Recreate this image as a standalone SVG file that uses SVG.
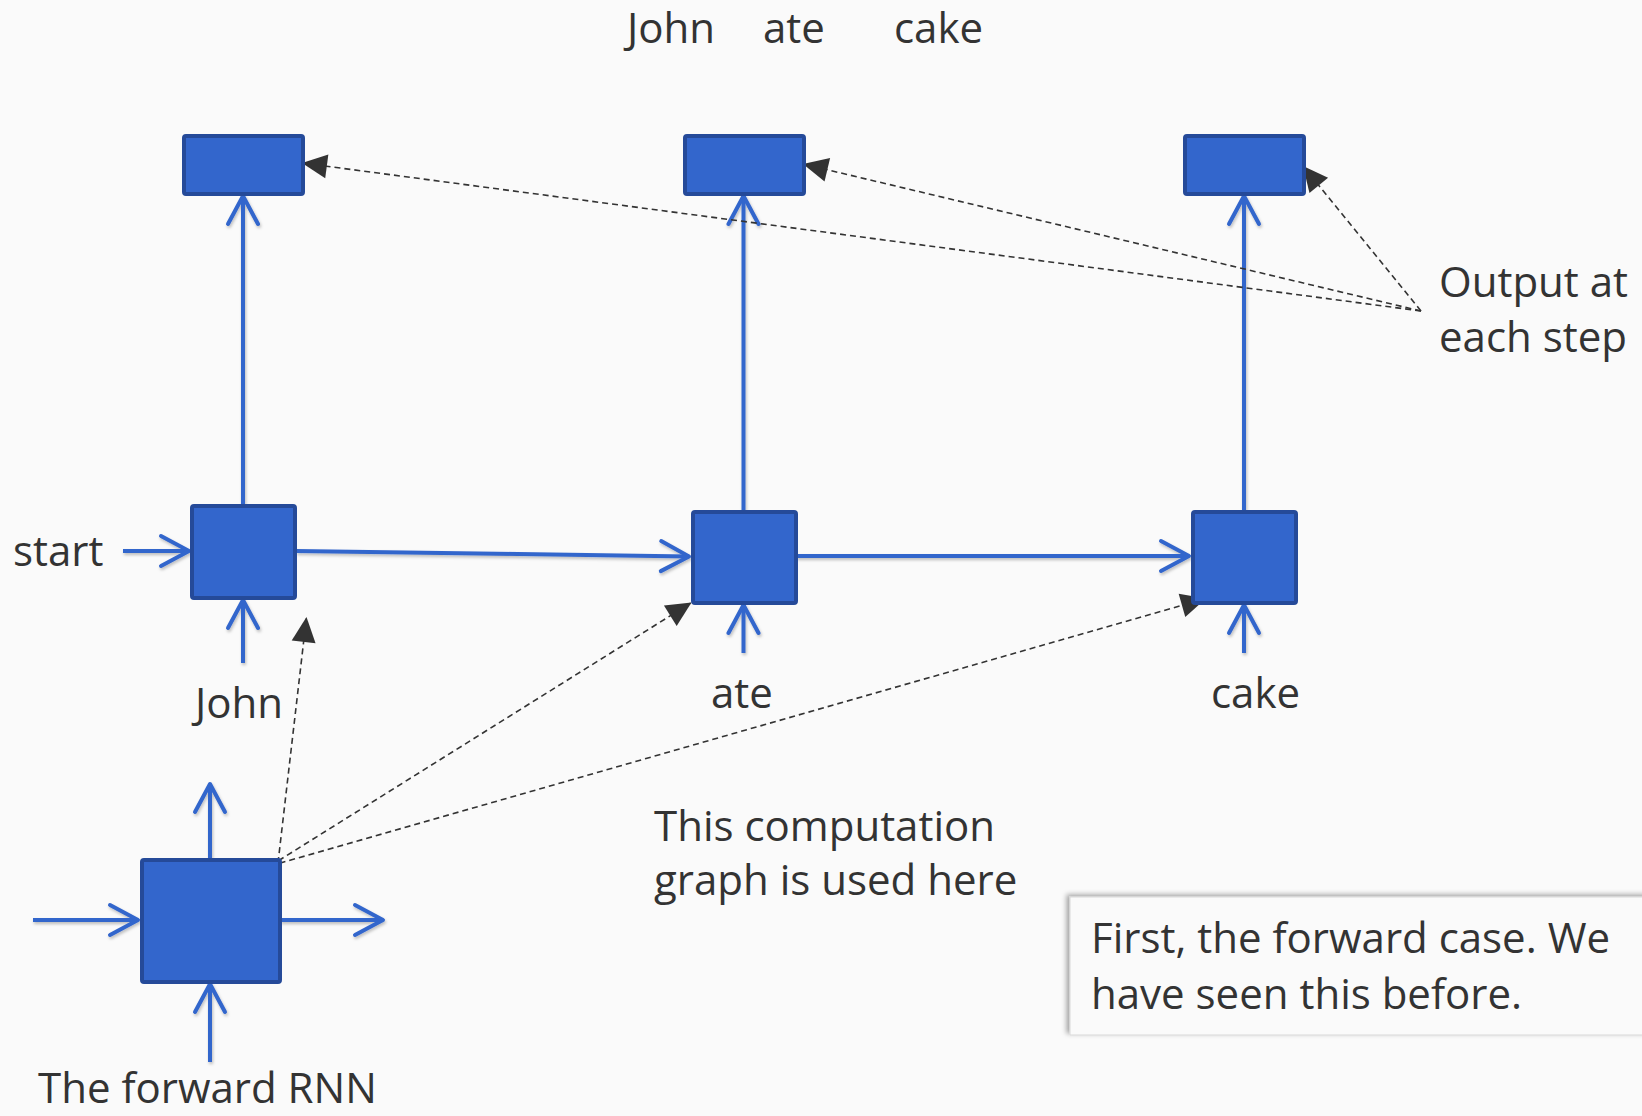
<svg xmlns="http://www.w3.org/2000/svg" width="1642" height="1116" viewBox="0 0 1642 1116">
<style>
.t{font-family:"Open Sans","Noto Sans",sans-serif;font-size:42px;fill:#333333}
.box{fill:#3366CC;stroke:#254A99;stroke-width:4}
.blue{stroke:#3366CC;stroke-width:4;fill:none;marker-end:url(#chev)}
.dash{stroke:#333333;stroke-width:1.6;fill:none;stroke-dasharray:6 4;marker-end:url(#tri)}
</style>
<defs>
<filter id="sh" filterUnits="userSpaceOnUse" x="0" y="0" width="1642" height="1116">
<feDropShadow dx="1" dy="2" stdDeviation="1.5" flood-color="#000" flood-opacity="0.25"/>
</filter>
<filter id="sh2" x="-10%" y="-20%" width="120%" height="140%">
<feDropShadow dx="-3" dy="-2" stdDeviation="2.5" flood-color="#000" flood-opacity="0.35"/>
</filter>
<marker id="chev" markerUnits="userSpaceOnUse" viewBox="-32 -18 36 36" refX="0" refY="0" markerWidth="36" markerHeight="36" orient="auto">
<path d="M-28,-15 L0,0 L-28,15" fill="none" stroke="#3366CC" stroke-width="4" stroke-linecap="round" stroke-linejoin="round"/>
</marker>
<marker id="tri" markerUnits="userSpaceOnUse" viewBox="-26 -14 28 28" refX="0" refY="0" markerWidth="28" markerHeight="28" orient="auto">
<path d="M0,0 L-25,-12 L-25,12 Z" fill="#333333"/>
</marker>
</defs>
<rect width="1642" height="1116" fill="#FAFAFA"/>

<g id="connectors">
<g filter="url(#sh)">
<line class="blue" x1="243" y1="504" x2="243" y2="196"/>
<line class="blue" x1="743.5" y1="510" x2="743.5" y2="196"/>
<line class="blue" x1="1244" y1="510" x2="1244" y2="196"/>
<line class="blue" x1="123" y1="551" x2="189" y2="551"/>
<line class="blue" x1="296" y1="551" x2="689" y2="556.5"/>
<line class="blue" x1="796" y1="556" x2="1189" y2="556"/>
<line class="blue" x1="243" y1="663" x2="243" y2="600"/>
<line class="blue" x1="743.5" y1="653" x2="743.5" y2="605"/>
<line class="blue" x1="1244" y1="653" x2="1244" y2="605"/>
<line class="blue" x1="33" y1="920" x2="138" y2="920"/>
<line class="blue" x1="280" y1="920" x2="383" y2="920"/>
<line class="blue" x1="210" y1="858" x2="210" y2="784"/>
<line class="blue" x1="210" y1="1062" x2="210" y2="984"/>
</g>
<line class="dash" x1="1421" y1="311" x2="302" y2="163"/>
<line class="dash" x1="1421" y1="311" x2="803" y2="164"/>
<line class="dash" x1="1421" y1="311" x2="1303" y2="166"/>
<line class="dash" x1="278" y1="863" x2="306.5" y2="617"/>
<line class="dash" x1="270" y1="866" x2="691.5" y2="602.5"/>
<line class="dash" x1="270" y1="866" x2="1206" y2="598.5"/>
</g>

<g id="out1"><rect class="box" x="184" y="136" width="119" height="58" rx="2"/></g>
<g id="out2"><rect class="box" x="685" y="136" width="119" height="58" rx="2"/></g>
<g id="out3"><rect class="box" x="1185" y="136" width="119" height="58" rx="2"/></g>
<g id="h1"><rect class="box" x="192" y="506" width="103" height="92" rx="2"/></g>
<g id="h2"><rect class="box" x="693" y="512" width="103" height="91" rx="2"/></g>
<g id="h3"><rect class="box" x="1193" y="512" width="103" height="91" rx="2"/></g>
<g id="rnn"><rect class="box" x="142" y="860" width="138" height="122" rx="2"/></g>

<g id="top-words">
<text class="t" x="627" y="43">John</text>
<text class="t" x="763" y="43">ate</text>
<text class="t" x="894" y="43">cake</text>
</g>
<g id="label-start"><text class="t" x="13" y="566">start</text></g>
<g id="label-john"><text class="t" x="195" y="718">John</text></g>
<g id="label-ate"><text class="t" x="711" y="708">ate</text></g>
<g id="label-cake"><text class="t" x="1211" y="708">cake</text></g>
<g id="label-output">
<text class="t" x="1439" y="297">Output at</text>
<text class="t" x="1439" y="352">each step</text>
</g>
<g id="label-comp">
<text class="t" x="654" y="841">This computation</text>
<text class="t" x="654" y="895">graph is used here</text>
</g>
<g id="label-rnn"><text class="t" x="38" y="1103">The forward RNN</text></g>
<g id="note">
<rect x="1070" y="897" width="590" height="138" fill="#FAFAFA" stroke="#D8D8D8" stroke-width="1" filter="url(#sh2)"/>
<text class="t" x="1091" y="953">First, the forward case. We</text>
<text class="t" x="1091" y="1009">have seen this before.</text>
</g>
</svg>
